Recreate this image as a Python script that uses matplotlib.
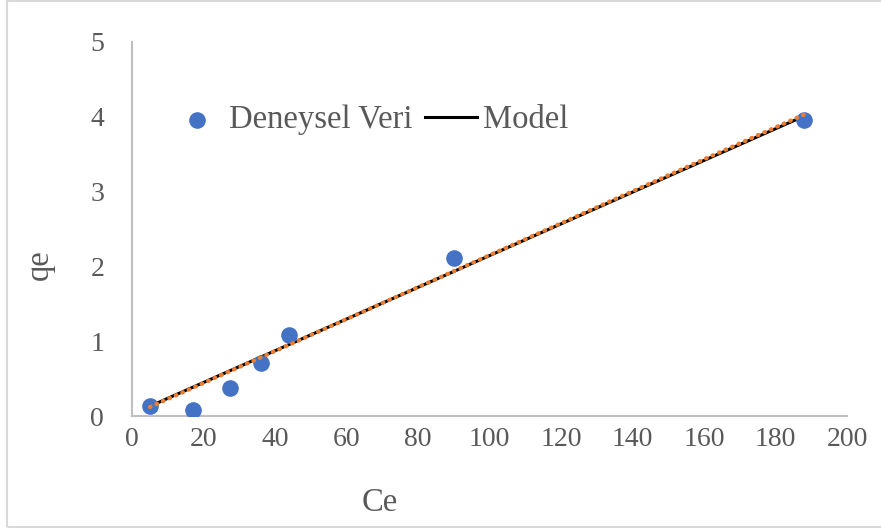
import matplotlib.pyplot as plt
from matplotlib.patches import Rectangle

# deneysel veri
ce = [5, 17, 27.4, 36, 44, 90, 188]
qe = [0.14, 0.08, 0.37, 0.71, 1.08, 2.11, 3.96]

# model line
model_ce = [5, 188]
model_qe = [0.13, 4.01]

# excel linear trendline (orange dotted)
trend_ce = [5, 188]
trend_qe = [0.12, 4.03]

xticks = [0, 20, 40, 60, 80, 100, 120, 140, 160, 180, 200]
yticks = [0, 1, 2, 3, 4, 5]

plt.rcParams['font.family'] = ['Liberation Serif', 'DejaVu Serif']
gray = '#595959'

fig = plt.figure(figsize=(8.81, 5.28), dpi=100)
ax = fig.add_axes([132/881, 1-416/528, (847-132)/881, (416-42)/528])

ax.scatter(ce, qe, s=120, color='#4472C4', zorder=3, label='Deneysel Veri')
ax.plot(model_ce, model_qe, color='black', lw=2.2, zorder=2, label='Model')
ax.plot(trend_ce, trend_qe, color='#ED7D31', lw=3.0, linestyle=(0, (0.2, 1.5)),
        dash_capstyle='round', zorder=4)

ax.set_xlim(0, 200)
ax.set_ylim(0, 5)
ax.set_xticks(xticks)
ax.set_yticks(yticks)
ax.tick_params(length=0, labelsize=20, labelcolor=gray)
ax.tick_params(axis='y', pad=20)
ax.tick_params(axis='x', pad=8)
for s in ['top', 'right']:
    ax.spines[s].set_visible(False)
for s in ['left', 'bottom']:
    ax.spines[s].set_color('#bfbfbf')
    ax.spines[s].set_linewidth(1.5)

ax.set_xlabel('Ce', fontsize=23.5, color=gray)
ax.set_ylabel('qe', fontsize=23.5, color=gray)
ax.xaxis.label.set_va('center')
ax.yaxis.label.set_va('center')
ax.xaxis.set_label_coords((380-132)/715, (416-503)/374)
ax.yaxis.set_label_coords((40-132)/715, (416-265)/374)

ax.legend(loc='center left', bbox_to_anchor=(171/881, 1-120/528),
          bbox_transform=fig.transFigure, frameon=False, ncol=2,
          fontsize=23.5, labelcolor=gray, handlelength=1.6, handletextpad=0.18,
          columnspacing=0.37, borderpad=0, borderaxespad=0)

fig.patches.append(Rectangle((7/881, 1/528), 900/881, 526/528, transform=fig.transFigure,
                             fill=False, edgecolor='#d9d9d9', lw=1.5))

plt.savefig('out.png', dpi=100)
